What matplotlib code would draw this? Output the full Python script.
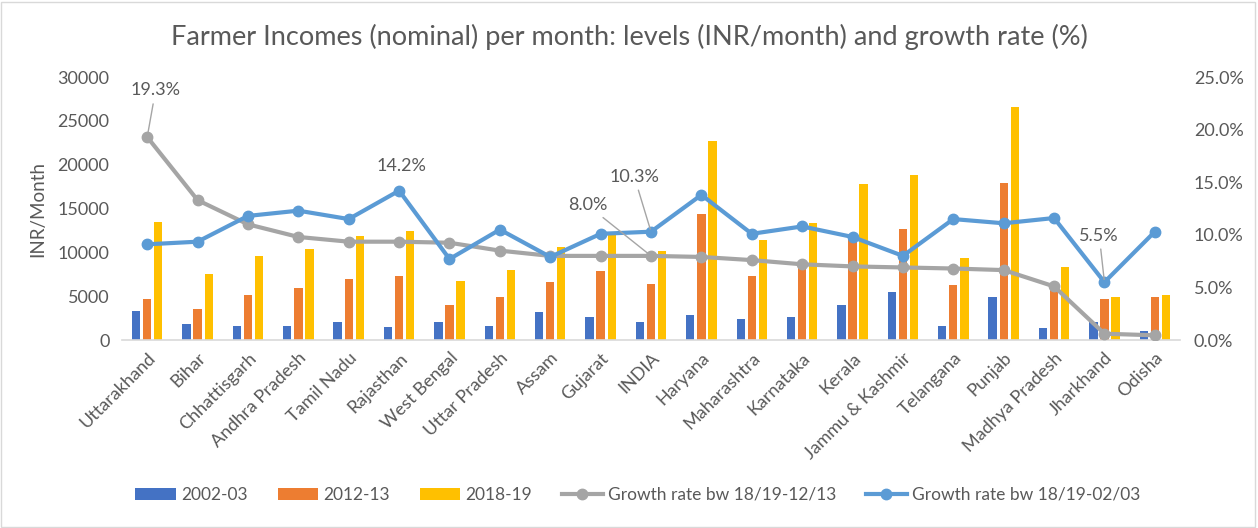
import numpy as np
import matplotlib.pyplot as plt
from matplotlib.patches import Rectangle
from matplotlib.ticker import FuncFormatter

# data
states = ['Uttarakhand', 'Bihar', 'Chhattisgarh', 'Andhra Pradesh', 'Tamil Nadu',
          'Rajasthan', 'West Bengal', 'Uttar Pradesh', 'Assam', 'Gujarat', 'INDIA',
          'Haryana', 'Maharashtra', 'Karnataka', 'Kerala', 'Jammu & Kashmir',
          'Telangana', 'Punjab', 'Madhya Pradesh', 'Jharkhand', 'Odisha']
inc_2002 = [3340, 1860, 1630, 1630, 2090, 1520, 2090, 1630, 3230, 2660, 2090,
            2880, 2430, 2660, 3990, 5510, 1630, 4940, 1400, 2090, 1030]
inc_2012 = [4710, 3570, 5170, 5960, 6990, 7330, 4030, 4940, 6650, 7900, 6420,
            14400, 7330, 8900, 11780, 12660, 6270, 17940, 6080, 4710, 4940]
inc_2018 = [13490, 7560, 9610, 10410, 11890, 12460, 6760, 8020, 10640, 12350, 10180,
            22730, 11440, 13340, 17790, 18810, 9350, 26600, 8320, 4940, 5170]
growth_12 = [19.3, 13.3, 11.0, 9.8, 9.35, 9.35, 9.25, 8.5, 8.0, 8.0, 8.0,
             7.9, 7.6, 7.2, 7.0, 6.9, 6.8, 6.65, 5.1, 0.6, 0.45]
growth_02 = [9.1, 9.35, 11.8, 12.3, 11.5, 14.2, 7.7, 10.5, 7.9, 10.1, 10.3,
             13.8, 10.1, 10.8, 9.8, 8.0, 11.5, 11.1, 11.6, 5.5, 10.3]

TXT = '#595959'
plt.rcParams['font.family'] = ['Lato', 'DejaVu Sans']

fig = plt.figure(figsize=(12.58, 5.28), dpi=100)
ax = fig.add_axes([0.097, 0.356, 0.841, 0.498])
ax2 = ax.twinx()

x = np.arange(len(states))
w = 0.165
off = 0.22
ax.bar(x - off, inc_2002, w, color='#4472c4', label='2002-03')
ax.bar(x, inc_2012, w, color='#ed7d31', label='2012-13')
ax.bar(x + off, inc_2018, w, color='#ffc000', label='2018-19')

g12 = np.array(growth_12) / 100
g02 = np.array(growth_02) / 100
ax2.plot(x, g12, color='#a5a5a5', lw=3, marker='o', ms=7.5,
         label='Growth rate bw 18/19-12/13')
ax2.plot(x, g02, color='#5b9bd5', lw=3, marker='o', ms=7.5,
         label='Growth rate bw 18/19-02/03')

ax.set_xlim(-0.5, len(states) - 0.5)
ax.set_ylim(0, 30000)
ax.set_yticks(range(0, 30001, 5000))
ax2.set_ylim(0, 0.25)
ax2.set_yticks(np.arange(0, 0.2501, 0.05))
ax2.yaxis.set_major_formatter(FuncFormatter(lambda v, p: f'{v * 100:.1f}%'))

for a in (ax, ax2):
    for s in a.spines.values():
        s.set_visible(False)
    a.tick_params(length=0, colors=TXT, labelsize=13)
ax.spines['bottom'].set_visible(True)
ax.spines['bottom'].set_color('#d9d9d9')
ax.spines['bottom'].set_linewidth(1.2)
ax.tick_params(axis='y', pad=9)
ax2.tick_params(axis='y', pad=10)

ax.set_xticks(x)
ax.set_xticklabels(states, rotation=45, ha='right', rotation_mode='anchor')
ax.tick_params(axis='x', pad=7)
ax.set_ylabel('INR/Month', color=TXT, fontsize=13.5, labelpad=8)

# data labels
lab = dict(color=TXT, fontsize=13, textcoords='offset points')
lead = dict(arrowstyle='-', color='#a5a5a5', lw=1)
ax2.annotate(f'{growth_12[0]:.1f}%', (x[0], g12[0]), xytext=(-12, 30), arrowprops=lead, **lab)
ax2.annotate(f'{growth_02[5]:.1f}%', (x[5], g02[5]), xytext=(-16, 14), **lab)
ax2.annotate(f'{growth_12[10]:.1f}%', (x[10], g12[10]), xytext=(-60, 33), arrowprops=lead, **lab)
ax2.annotate(f'{growth_02[10]:.1f}%', (x[10], g02[10]), xytext=(-30, 36), arrowprops=lead, **lab)
ax2.annotate(f'{growth_02[19]:.1f}%', (x[19], g02[19]), xytext=(-18, 30), arrowprops=lead, **lab)

fig.suptitle('Farmer Incomes (nominal) per month: levels (INR/month) and growth rate (%)',
             color=TXT, fontsize=19.5, y=0.955)

h1, l1 = ax.get_legend_handles_labels()
h2, l2 = ax2.get_legend_handles_labels()
fig.legend(h1 + h2, l1 + l2, loc='center', bbox_to_anchor=(0.507, 0.063), ncol=5,
           frameon=False, fontsize=12.5, labelcolor=TXT, handlelength=2.35,
           columnspacing=1.7, handletextpad=0.3)

fig.patches.append(Rectangle((0.001, 0.002), 0.997, 0.995, transform=fig.transFigure,
                             fill=False, edgecolor='#d9d9d9', lw=1))

fig.savefig('out.png', dpi=100)
